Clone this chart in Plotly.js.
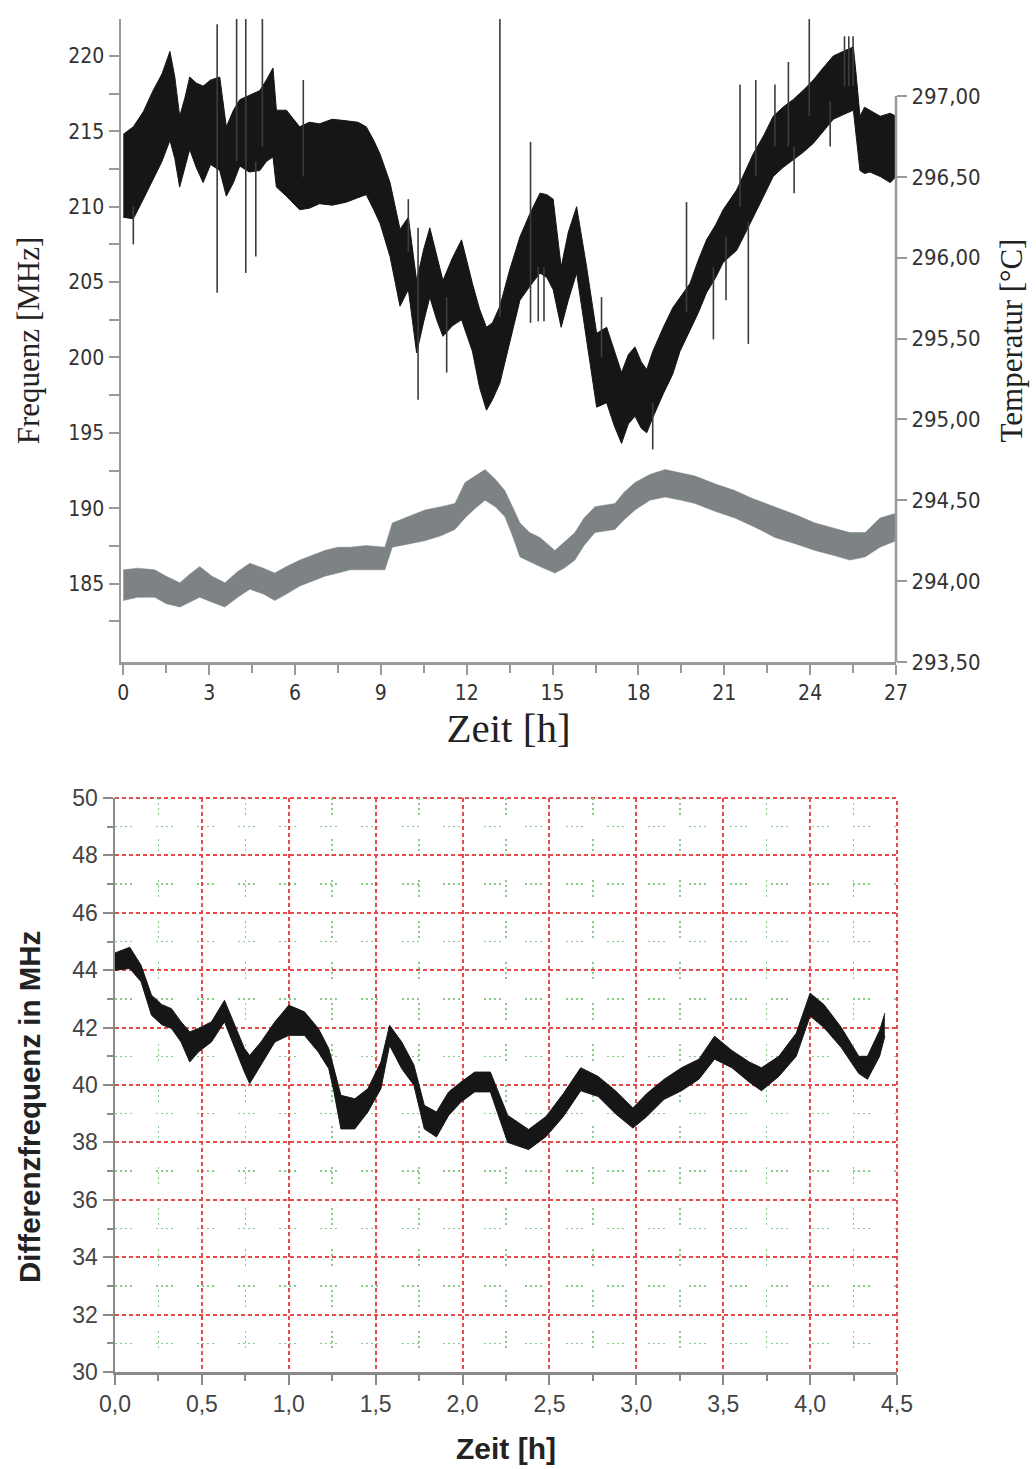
<!DOCTYPE html>
<html>
<head>
<meta charset="utf-8">
<script src="https://cdn.plot.ly/plotly-3.0.1.min.js"></script>
<style>html,body{margin:0;padding:0;background:#fff;}#chart{width:1036px;height:1469px;}</style>
</head>
<body>
<div id="chart"></div>
<script>
// ---------- Top chart: frequency band (MHz) over time (h) ----------
const freqTime = [0.0,0.35,0.7,1.04,1.35,1.63,1.8,1.97,2.15,2.32,2.55,2.79,3.05,3.37,3.6,3.85,4.07,4.4,4.77,5.0,5.23,5.35,5.7,6.16,6.5,6.86,7.3,7.79,8.2,8.49,8.75,8.97,9.32,9.67,9.96,10.25,10.5,10.71,10.95,11.17,11.5,11.82,12.2,12.45,12.69,12.9,13.16,13.5,13.86,14.2,14.56,14.8,15.02,15.3,15.55,15.84,16.19,16.54,16.89,17.15,17.41,17.65,17.88,18.1,18.29,18.5,18.87,19.2,19.45,19.8,20.1,20.38,20.7,20.96,21.43,21.7,22.01,22.4,22.71,23.05,23.4,23.75,24.11,24.45,24.81,25.15,25.51,25.62,25.74,25.9,26.09,26.45,26.8,27.0];
const freqLow  = [209.3,209.2,210.5,211.8,213.0,214.4,213.2,211.3,212.5,213.8,212.6,211.6,212.8,212.4,210.7,211.6,212.7,212.3,212.4,213.0,213.3,211.3,210.7,209.8,209.9,210.2,210.1,210.3,210.6,210.8,209.8,208.9,206.7,203.4,204.5,200.3,202.4,204.0,202.5,201.4,202.1,202.5,200.4,198.0,196.5,197.2,198.3,201.0,203.8,204.7,205.6,205.3,204.5,202.0,203.8,205.6,201.2,196.7,197.0,195.5,194.3,195.6,196.1,195.3,195.0,196.0,197.6,198.9,200.4,201.8,203.0,204.3,205.3,206.3,207.1,208.1,209.3,210.8,212.0,212.6,213.1,213.6,214.2,215.0,215.8,216.1,216.4,214.5,212.4,212.2,212.3,212.0,211.6,212.0];
const freqHigh = [214.8,215.3,216.3,217.7,218.8,220.3,218.6,216.0,217.2,218.6,218.2,218.0,218.4,218.6,215.3,216.4,217.1,217.4,217.7,218.4,219.2,216.4,216.4,215.3,215.6,215.5,215.8,215.7,215.6,215.3,214.4,213.5,211.6,208.5,209.3,205.1,207.2,208.6,206.8,205.1,206.6,207.8,204.9,203.2,202.0,202.3,203.4,205.8,208.0,209.5,210.9,210.8,210.5,206.0,208.3,210.0,206.0,201.6,202.0,200.5,199.0,200.2,200.7,199.7,199.2,200.4,202.0,203.3,204.0,204.9,206.5,207.8,208.8,209.8,211.1,212.2,213.5,214.8,216.0,216.6,217.1,217.7,218.4,219.2,220.0,220.3,220.6,218.5,216.0,216.6,216.4,216.0,216.2,216.0];

// isolated frequency spikes: time, lower end, upper end (MHz)
const spikeTime = [0.35,3.28,3.96,4.28,4.63,4.86,6.29,9.96,10.3,11.3,13.16,14.23,14.5,14.7,16.71,18.5,19.68,20.62,21.06,21.55,21.84,22.1,22.77,23.24,23.44,23.97,24.7,25.2,25.35,25.5];
const spikeLow  = [207.5,204.3,213.0,205.6,206.7,214.0,212.0,207.0,197.2,199.0,202.7,202.3,202.4,202.4,200.0,193.9,203.0,201.2,203.8,210.0,200.9,212.0,214.0,214.0,210.9,216.0,214.0,218.0,218.0,218.0];
const spikeHigh = [210.0,222.1,222.5,222.5,213.0,222.5,218.4,210.5,208.6,204.0,222.5,214.3,206.0,206.0,204.0,197.0,210.3,206.0,208.0,218.1,209.0,218.4,218.1,219.6,214.0,222.5,217.0,221.3,221.3,221.3];

// temperature band (°C) over time (h)
const tempTime = [0.0,0.5,1.1,1.5,1.98,2.3,2.67,3.1,3.55,4.0,4.42,4.9,5.29,5.7,6.17,6.6,7.04,7.5,7.92,8.5,9.14,9.4,10.0,10.54,11.1,11.59,11.94,12.3,12.64,13.0,13.33,13.6,13.86,14.2,14.56,15.08,15.4,15.78,16.1,16.48,17.18,17.5,17.88,18.4,18.93,19.5,19.98,20.7,21.37,22.0,22.77,23.5,24.17,24.8,25.39,25.92,26.44,27.0];
const tempLow  = [293.88,293.90,293.90,293.86,293.84,293.87,293.90,293.87,293.84,293.90,293.95,293.92,293.88,293.92,293.97,294.00,294.03,294.05,294.07,294.07,294.07,294.21,294.23,294.25,294.28,294.32,294.39,294.45,294.50,294.46,294.40,294.28,294.15,294.12,294.09,294.05,294.08,294.13,294.22,294.30,294.32,294.38,294.44,294.50,294.52,294.50,294.48,294.43,294.39,294.34,294.27,294.23,294.19,294.16,294.13,294.15,294.21,294.25];
const tempHigh = [294.07,294.08,294.07,294.03,293.99,294.04,294.09,294.03,293.99,294.06,294.11,294.08,294.05,294.09,294.13,294.16,294.19,294.21,294.21,294.22,294.21,294.36,294.40,294.44,294.46,294.48,294.61,294.65,294.69,294.63,294.56,294.46,294.36,294.30,294.27,294.19,294.24,294.30,294.39,294.46,294.48,294.55,294.61,294.66,294.69,294.67,294.65,294.60,294.56,294.51,294.46,294.41,294.36,294.33,294.30,294.30,294.39,294.42];

const topXTicks = [0,3,6,9,12,15,18,21,24,27];
const topXMinor = [1.5,4.5,7.5,10.5,13.5,16.5,19.5,22.5,25.5];
const freqTicks = [185,190,195,200,205,210,215,220];
const freqMinor = [182.5,187.5,192.5,197.5,202.5,207.5,212.5,217.5,222.5];
const tempTicks = [293.5,294.0,294.5,295.0,295.5,296.0,296.5,297.0];
const tempTickText = ['293,50','294,00','294,50','295,00','295,50','296,00','296,50','297,00'];

// ---------- Bottom chart: difference frequency ----------
const diffTime = [0.0,0.085,0.15,0.21,0.27,0.325,0.38,0.43,0.48,0.555,0.63,0.69,0.745,0.775,0.84,0.92,1.0,1.09,1.17,1.23,1.26,1.30,1.38,1.455,1.53,1.58,1.65,1.72,1.78,1.85,1.92,1.99,2.07,2.16,2.26,2.38,2.48,2.58,2.68,2.78,2.88,2.98,3.06,3.16,3.26,3.36,3.45,3.55,3.65,3.72,3.82,3.92,4.0,4.08,4.18,4.28,4.33,4.4,4.43];
const diffLow  = [44.0,44.06,43.6,42.43,42.1,41.97,41.5,40.8,41.15,41.5,42.2,41.27,40.45,40.05,40.7,41.5,41.73,41.73,41.15,40.57,39.76,38.47,38.47,39.06,39.87,41.38,40.57,39.99,38.47,38.19,38.94,39.4,39.76,39.76,38.0,37.75,38.2,38.9,39.8,39.6,39.0,38.5,38.9,39.5,39.8,40.2,40.9,40.6,40.1,39.8,40.3,41.0,42.4,42.0,41.3,40.4,40.2,41.0,41.7];
const diffHigh = [44.6,44.8,44.17,43.13,42.8,42.66,42.2,41.85,41.97,42.2,42.95,42.08,41.27,41.03,41.5,42.2,42.78,42.55,41.97,41.27,40.57,39.64,39.52,39.87,40.8,42.08,41.5,40.7,39.29,39.06,39.76,40.1,40.45,40.45,38.94,38.45,38.9,39.7,40.6,40.3,39.8,39.2,39.7,40.2,40.6,40.9,41.7,41.2,40.8,40.6,41.0,41.8,43.2,42.8,42.0,41.0,41.0,41.9,42.5];

const botXTicks = [0,0.5,1,1.5,2,2.5,3,3.5,4,4.5];
const botXTickText = ['0,0','0,5','1,0','1,5','2,0','2,5','3,0','3,5','4,0','4,5'];
const botXMinor = [0.25,0.75,1.25,1.75,2.25,2.75,3.25,3.75,4.25];
const botYTicks = [30,32,34,36,38,40,42,44,46,48,50];
const botYMinor = [31,33,35,37,39,41,43,45,47,49];

// ---------- build ----------
const W = 1036, H = 1469;
const px = v => v / W;
const py = v => 1 - v / H;

const spikeX = [], spikeY = [];
spikeTime.forEach((t, i) => { spikeX.push(t, t, null); spikeY.push(spikeLow[i], spikeHigh[i], null); });

const BLACK = '#161616', GREY = '#7d8285';
const narrow = 'Liberation Sans Narrow, DejaVu Sans Condensed, Liberation Sans, Arial, sans-serif';
const serif = 'Liberation Serif, Times New Roman, serif';
const sans = 'Liberation Sans, Arial, sans-serif';

const traces = [
  {x: tempTime, y: tempLow, xaxis: 'x', yaxis: 'y2', mode: 'lines', line: {width: 0.5, color: GREY}, hoverinfo: 'skip', showlegend: false},
  {x: tempTime, y: tempHigh, xaxis: 'x', yaxis: 'y2', mode: 'lines', fill: 'tonexty', fillcolor: GREY, line: {width: 0.5, color: GREY}, hoverinfo: 'skip', showlegend: false},
  {x: freqTime, y: freqLow, xaxis: 'x', yaxis: 'y', mode: 'lines', line: {width: 1, color: BLACK}, hoverinfo: 'skip', showlegend: false},
  {x: freqTime, y: freqHigh, xaxis: 'x', yaxis: 'y', mode: 'lines', fill: 'tonexty', fillcolor: BLACK, line: {width: 1, color: BLACK}, hoverinfo: 'skip', showlegend: false},
  {x: spikeX, y: spikeY, xaxis: 'x', yaxis: 'y', mode: 'lines', connectgaps: false, line: {width: 1.6, color: '#3c3c3c'}, hoverinfo: 'skip', showlegend: false},
  {x: diffTime, y: diffLow, xaxis: 'x2', yaxis: 'y3', mode: 'lines', line: {width: 1, color: BLACK}, hoverinfo: 'skip', showlegend: false},
  {x: diffTime, y: diffHigh, xaxis: 'x2', yaxis: 'y3', mode: 'lines', fill: 'tonexty', fillcolor: BLACK, line: {width: 1, color: BLACK}, hoverinfo: 'skip', showlegend: false}
];

const topAxisColor = '#9a9a9a';
const botAxisColor = '#8a8a8a';
const RED = '#e84a4a', GREEN = '#86cc86';
const greenDash = '2px,3px,2px,3px,2px,3px,2px,24px';
const redDash = '4px,3px';
const layout = {
  width: W, height: H,
  margin: {l: 0, r: 0, t: 0, b: 0},
  paper_bgcolor: '#fff', plot_bgcolor: 'rgba(0,0,0,0)',
  showlegend: false,
  xaxis: {
    domain: [px(121), px(896)], anchor: 'y', range: [-0.08, 27],
    tickmode: 'array', tickvals: topXTicks, ticktext: topXTicks.map(String),
    ticks: 'outside', ticklen: 10, tickwidth: 2, tickcolor: topAxisColor,
    minor: {tickmode: 'array', tickvals: topXMinor, ticks: 'outside', ticklen: 8, tickwidth: 2, tickcolor: topAxisColor},
    showline: true, linecolor: topAxisColor, linewidth: 2.5,
    showgrid: false, zeroline: false,
    tickfont: {family: narrow, size: 21, color: '#333'},
    title: {text: 'Zeit [h]', font: {family: serif, size: 41, color: '#222'}, standoff: 6}
  },
  yaxis: {
    domain: [py(662), py(19)], anchor: 'x', range: [179.8, 222.45],
    tickmode: 'array', tickvals: freqTicks, ticktext: freqTicks.map(String),
    ticks: 'outside', ticklen: 10, tickwidth: 2, tickcolor: topAxisColor,
    minor: {tickmode: 'array', tickvals: freqMinor, ticks: 'outside', ticklen: 10, tickwidth: 2, tickcolor: topAxisColor},
    showline: true, linecolor: topAxisColor, linewidth: 2.5,
    showgrid: false, zeroline: false,
    tickfont: {family: narrow, size: 21, color: '#333'},
    title: {text: 'Frequenz [MHz]', font: {family: serif, size: 31, color: '#222'}, standoff: 20}
  },
  yaxis2: {
    overlaying: 'y', side: 'right', anchor: 'x', range: [293.5, 297.476],
    tickmode: 'array', tickvals: tempTicks, ticktext: tempTickText,
    ticks: 'outside', ticklen: 10, tickwidth: 2, tickcolor: topAxisColor,
    showline: false, showgrid: false, zeroline: false,
    tickfont: {family: narrow, size: 22, color: '#333'},
    title: {text: 'Temperatur [°C]', font: {family: serif, size: 31, color: '#222'}, standoff: 20}
  },
  xaxis2: {
    domain: [px(115), px(897)], anchor: 'y3', range: [0, 4.5],
    tickmode: 'array', tickvals: botXTicks, ticktext: botXTickText,
    ticks: 'outside', ticklen: 10, tickwidth: 2, tickcolor: botAxisColor,
    minor: {tickmode: 'array', tickvals: botXMinor, ticks: 'outside', ticklen: 6, tickwidth: 2, tickcolor: botAxisColor,
            showgrid: true, gridcolor: GREEN, gridwidth: 1.5, griddash: greenDash},
    showline: true, linecolor: botAxisColor, linewidth: 2.5,
    showgrid: true, gridcolor: RED, gridwidth: 2, griddash: redDash,
    zeroline: false,
    tickfont: {family: sans, size: 23, color: '#444'},
    title: {text: 'Zeit [h]', font: {family: sans, size: 30, color: '#222', weight: 'bold'}, standoff: 22}
  },
  yaxis3: {
    domain: [py(1372), py(798)], anchor: 'x2', range: [30, 50],
    tickmode: 'array', tickvals: botYTicks, ticktext: botYTicks.map(String),
    ticks: 'outside', ticklen: 10, tickwidth: 2, tickcolor: botAxisColor,
    minor: {tickmode: 'array', tickvals: botYMinor, ticks: 'outside', ticklen: 6, tickwidth: 2, tickcolor: botAxisColor,
            showgrid: true, gridcolor: GREEN, gridwidth: 1.5, griddash: greenDash},
    showline: true, linecolor: botAxisColor, linewidth: 2.5,
    showgrid: true, gridcolor: RED, gridwidth: 2, griddash: redDash,
    zeroline: false,
    tickfont: {family: sans, size: 23, color: '#444'}
  },
  annotations: [
    {text: 'Differenzfrequenz in MHz', xref: 'paper', yref: 'paper', x: px(29), y: py(1107),
     xanchor: 'center', yanchor: 'middle', textangle: -90, showarrow: false,
     font: {family: sans, size: 29.5, color: '#222', weight: 'bold'}}
  ],
  shapes: [
    {type: 'line', xref: 'x domain', x0: 1, x1: 1, yref: 'y2', y0: 293.5, y1: 297.0,
     line: {color: topAxisColor, width: 2.5}},
    // red dotted frame lines on the top and right edges of the lower plot
    {type: 'line', xref: 'x2 domain', x0: 0, x1: 1, yref: 'y3 domain', y0: 1, y1: 1, layer: 'below',
     line: {color: RED, width: 2, dash: redDash}},
    {type: 'line', xref: 'x2 domain', x0: 1, x1: 1, yref: 'y3 domain', y0: 0, y1: 1, layer: 'below',
     line: {color: RED, width: 2, dash: redDash}}
  ]
};

Plotly.newPlot('chart', traces, layout, {staticPlot: true, displayModeBar: false});
</script>
</body>
</html>
